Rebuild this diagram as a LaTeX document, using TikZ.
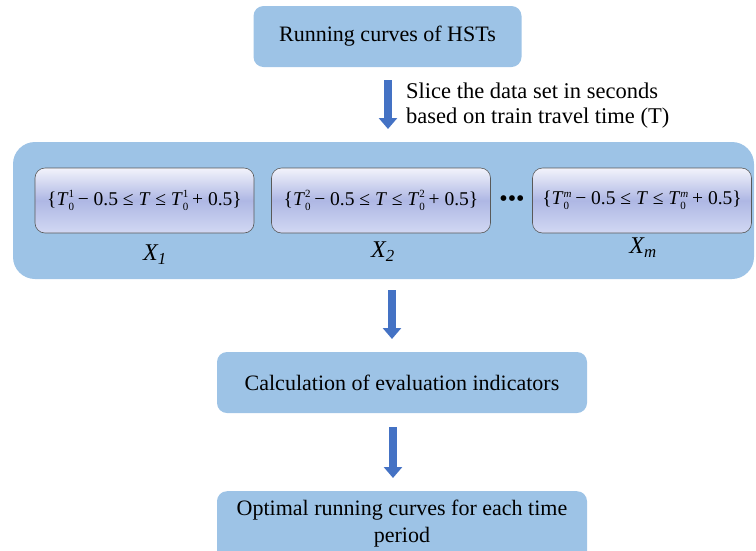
\documentclass[tikz,border=0pt]{standalone}
\usepackage{fontspec}
\setmainfont{Liberation Serif}
\usetikzlibrary{arrows.meta}
\definecolor{boxblue}{HTML}{9DC3E6}
\definecolor{arrowblue}{HTML}{4472C4}
\definecolor{innertop}{HTML}{F2F3FB}
\definecolor{innermid}{HTML}{AEB7E4}
\definecolor{innerbot}{HTML}{D2D8F3}
\newcommand{\Tz}[1]{\textit{T}$^{\mbox{\fontsize{11}{11}\selectfont #1}}_{\mbox{\fontsize{11}{11}\selectfont 0}}$}
\begin{document}
\begin{tikzpicture}[x=1pt,y=-1pt,
  bluebox/.style={fill=boxblue, draw=none, rounded corners=10pt, align=center, font=\fontsize{22}{27}\selectfont},
  setbox/.style={draw=black!65, line width=0.6pt, rounded corners=10pt, top color=innertop, bottom color=innerbot, middle color=innermid, minimum width=219pt, minimum height=65pt, font=\fontsize{19.5}{22}\selectfont},
  lab/.style={font=\fontsize{24}{26}\selectfont},
  flow/.style={draw=arrowblue, line width=8pt, -{Triangle[width=18pt,length=11pt]}}]
\useasboundingbox (0,0) rectangle (756,550);
\node[bluebox, minimum width=268pt, minimum height=61pt] (top) at (387.5,36.5) {Running curves of HSTs};
\coordinate (a1s) at (388,80);
\coordinate (a1e) at (388,129);
\draw[flow] (a1s) -- (a1e);
\node[anchor=north west, align=left, inner sep=0pt, font=\fontsize{22.5}{25}\selectfont] (slice) at (406,83) {Slice the data set in seconds\\based on train travel time (T)};
\node[bluebox, rounded corners=22pt, minimum width=741pt, minimum height=137pt] (big) at (383.5,210.5) {};
\node[setbox] (s1) at (144.5,200.5) {\{\Tz{1}\,− 0.5 ≤ \textit{T} ≤ \Tz{1}\,+ 0.5\}};
\node[setbox] (s2) at (381,200.5) {\{\Tz{2}\,− 0.5 ≤ \textit{T} ≤ \Tz{2}\,+ 0.5\}};
\node[font=\fontsize{24}{24}\selectfont, inner sep=0pt] (dots) at (512,201) {•••};
\node[setbox] (s3) at (642,200.5) {\{\Tz{\textit{m}}\,− 0.5 ≤ \textit{T} ≤ \Tz{\textit{m}}\,+ 0.5\}};
\node[lab] (x1) at (155,255) {\textit{X\textsubscript{1}}};
\node[lab] (x2) at (383,252) {\textit{X\textsubscript{2}}};
\node[lab] (xm) at (643,248) {\textit{X\textsubscript{m}}};
\coordinate (a2s) at (392,290);
\coordinate (a2e) at (392,339);
\draw[flow] (a2s) -- (a2e);
\node[bluebox, minimum width=370pt, minimum height=61pt] (calc) at (402,382.5) {Calculation of evaluation indicators};
\coordinate (a3s) at (393,427);
\coordinate (a3e) at (393,478);
\draw[flow] (a3s) -- (a3e);
\node[bluebox, minimum width=370pt, minimum height=74pt, anchor=north] (opt) at (402,491) {};
\node[font=\fontsize{22}{27}\selectfont, align=center, anchor=north] (optt) at (402,496) {Optimal running curves for each time\\period};
\end{tikzpicture}
\end{document}
